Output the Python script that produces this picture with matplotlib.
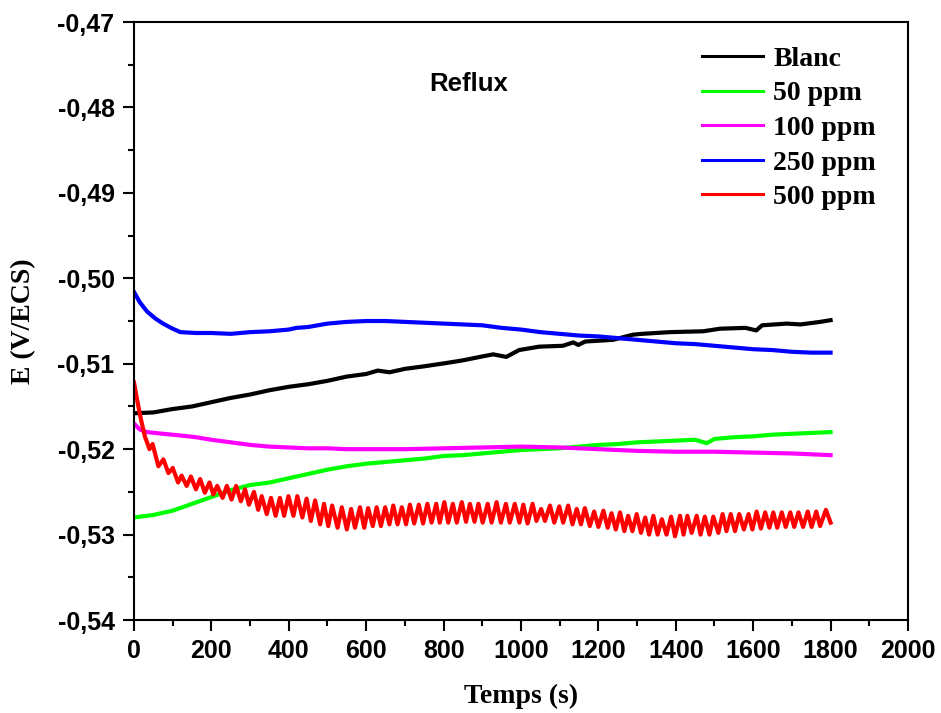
import matplotlib
matplotlib.use("Agg")
import matplotlib.pyplot as plt
from matplotlib.ticker import FuncFormatter, MultipleLocator

# --- open-circuit potential vs time, reflux extract ---
blanc_t = [0, 50, 100, 150, 200, 250, 300, 350, 400, 450, 500, 550, 600, 630, 660,
           700, 750, 809, 850, 894, 928, 962, 995, 1047, 1108, 1135, 1148, 1166,
           1238, 1289, 1313, 1385, 1471, 1514, 1580, 1608, 1623, 1687, 1722, 1773, 1800]
blanc_e = [-0.5158, -0.5157, -0.5153, -0.5150, -0.5145, -0.5140, -0.5136, -0.5131,
           -0.5127, -0.5124, -0.5120, -0.5115, -0.5112, -0.5108, -0.5110, -0.5106,
           -0.5103, -0.5099, -0.5096, -0.5092, -0.5089, -0.5092, -0.5084, -0.5080,
           -0.5079, -0.5075, -0.5078, -0.5074, -0.5072, -0.5066, -0.5065, -0.5063,
           -0.5062, -0.5059, -0.5058, -0.5061, -0.5055, -0.5053, -0.5054, -0.5051, -0.5049]

ppm50_t = [0, 50, 100, 150, 200, 250, 300, 351, 400, 450, 500, 550, 600, 650, 700,
           750, 800, 850, 900, 950, 1000, 1050, 1100, 1150, 1200, 1250, 1300, 1350,
           1400, 1450, 1480, 1500, 1550, 1600, 1650, 1700, 1750, 1800]
ppm50_e = [-0.5280, -0.5277, -0.5272, -0.5264, -0.5256, -0.5248, -0.5242, -0.5239,
           -0.5234, -0.5229, -0.5224, -0.5220, -0.5217, -0.5215, -0.5213, -0.5211,
           -0.5208, -0.5207, -0.5205, -0.5203, -0.5201, -0.5200, -0.5199, -0.5197,
           -0.5195, -0.5194, -0.5192, -0.5191, -0.5190, -0.5189, -0.5193, -0.5188,
           -0.5186, -0.5185, -0.5183, -0.5182, -0.5181, -0.5180]

ppm100_t = [0, 15, 34, 75, 120, 160, 200, 250, 300, 350, 400, 450, 500, 550,
            600, 700, 800, 900, 1000, 1100, 1200, 1300, 1400, 1500, 1600, 1700, 1800]
ppm100_e = [-0.5170, -0.5177, -0.5180, -0.5182, -0.5184, -0.5186, -0.5189, -0.5192,
            -0.5195, -0.5197, -0.5198, -0.5199, -0.5199, -0.5200, -0.5200,
            -0.5200, -0.5199, -0.5198, -0.5197, -0.5198, -0.5200, -0.5202, -0.5203,
            -0.5203, -0.5204, -0.5205, -0.5207]

ppm250_t = [0, 15, 34, 55, 75, 100, 120, 160, 200, 250, 300, 350, 400, 420, 450,
            500, 550, 600, 650, 700, 750, 800, 850, 900, 950, 1000, 1050, 1100, 1150,
            1200, 1250, 1300, 1350, 1400, 1450, 1500, 1550, 1600, 1650, 1700, 1750, 1800]
ppm250_e = [-0.5016, -0.5028, -0.5039, -0.5047, -0.5053, -0.5059, -0.5063, -0.5064,
            -0.5064, -0.5065, -0.5063, -0.5062, -0.5060, -0.5058, -0.5057, -0.5053,
            -0.5051, -0.5050, -0.5050, -0.5051, -0.5052, -0.5053, -0.5054, -0.5055,
            -0.5058, -0.5060, -0.5063, -0.5065, -0.5067, -0.5068, -0.5070, -0.5072,
            -0.5074, -0.5076, -0.5077, -0.5079, -0.5081, -0.5083, -0.5084, -0.5086,
            -0.5087, -0.5087]

# 500 ppm oscillates; successive extrema (peak / trough) of each cycle
ppm500_t = [0, 8, 16, 28, 40,
            48, 63, 76, 89, 100, 114, 123, 136, 147, 160, 171, 183, 195, 205,
            215, 229, 240, 252, 264, 276, 287, 297, 310, 321, 330, 343, 354, 366,
            377, 388, 399, 412, 422, 435, 446, 457, 468, 481, 491, 502, 512, 526,
            537, 550, 561, 571, 584, 595, 605, 617, 627, 638, 649, 660, 670, 681,
            692, 703, 713, 724, 736, 747, 758, 769, 781, 790, 802, 812, 824, 834,
            847, 858, 868, 880, 890, 901, 914, 924, 937, 948, 961, 971, 984, 996,
            1006, 1017, 1030, 1040, 1052, 1062, 1075, 1086, 1099, 1109, 1122, 1133,
            1144, 1155, 1165, 1178, 1189, 1200, 1213, 1224, 1234, 1245, 1256, 1267,
            1277, 1288, 1299, 1310, 1321, 1331, 1342, 1353, 1364, 1376, 1388, 1398,
            1411, 1420, 1430, 1441, 1454, 1464, 1475, 1487, 1497, 1510, 1521, 1531,
            1542, 1553, 1564, 1576, 1588, 1598, 1609, 1620, 1631, 1642, 1652, 1662,
            1674, 1684, 1696, 1706, 1717, 1729, 1741, 1751, 1763, 1773, 1788, 1800]
ppm500_e = [-0.5122, -0.5142, -0.5161, -0.5185, -0.5200,
            -0.5194, -0.5220, -0.5212, -0.5228, -0.5222, -0.5239, -0.5231, -0.5243,
            -0.5232, -0.5247, -0.5235, -0.5251, -0.5239, -0.5253, -0.5243, -0.5257,
            -0.5243, -0.5259, -0.5243, -0.5261, -0.5247, -0.5265, -0.5250, -0.5271,
            -0.5255, -0.5276, -0.5257, -0.5278, -0.5257, -0.5278, -0.5255, -0.5278,
            -0.5255, -0.5280, -0.5258, -0.5284, -0.5260, -0.5288, -0.5264, -0.5290,
            -0.5266, -0.5292, -0.5268, -0.5294, -0.5270, -0.5292, -0.5268, -0.5292,
            -0.5269, -0.5290, -0.5268, -0.5290, -0.5268, -0.5288, -0.5266, -0.5288,
            -0.5268, -0.5288, -0.5265, -0.5287, -0.5265, -0.5287, -0.5264, -0.5286,
            -0.5264, -0.5286, -0.5262, -0.5286, -0.5264, -0.5286, -0.5262, -0.5285,
            -0.5264, -0.5285, -0.5264, -0.5286, -0.5264, -0.5286, -0.5262, -0.5286,
            -0.5264, -0.5286, -0.5264, -0.5286, -0.5265, -0.5287, -0.5264, -0.5284,
            -0.5270, -0.5284, -0.5266, -0.5286, -0.5267, -0.5286, -0.5266, -0.5288,
            -0.5270, -0.5288, -0.5269, -0.5290, -0.5273, -0.5291, -0.5272, -0.5292,
            -0.5275, -0.5294, -0.5274, -0.5296, -0.5278, -0.5296, -0.5276, -0.5298,
            -0.5280, -0.5300, -0.5278, -0.5300, -0.5282, -0.5300, -0.5279, -0.5302,
            -0.5278, -0.5300, -0.5278, -0.5298, -0.5278, -0.5300, -0.5279, -0.5300,
            -0.5279, -0.5298, -0.5276, -0.5296, -0.5276, -0.5296, -0.5276, -0.5294,
            -0.5276, -0.5294, -0.5273, -0.5293, -0.5274, -0.5292, -0.5274, -0.5292,
            -0.5274, -0.5291, -0.5274, -0.5291, -0.5274, -0.5291, -0.5273, -0.5291,
            -0.5273, -0.5290, -0.5271, -0.5286]

SERIES = [
    ("Blanc", blanc_t, blanc_e, "#000000"),
    ("50 ppm", ppm50_t, ppm50_e, "#00ff00"),
    ("100 ppm", ppm100_t, ppm100_e, "#ff00ff"),
    ("250 ppm", ppm250_t, ppm250_e, "#0000ff"),
    ("500 ppm", ppm500_t, ppm500_e, "#ff0000"),
]

SANS = "Liberation Sans"
SERIF = "Liberation Serif"

fig = plt.figure(figsize=(9.41, 7.13), dpi=100)
ax = fig.add_axes([0.1424, 0.1304, 0.8225, 0.8387])

for label, t, e, color in SERIES:
    ax.plot(t, e, color=color, linewidth=3.0, label=label)

ax.set_xlim(0, 2000)
ax.set_ylim(-0.54, -0.47)
ax.xaxis.set_major_locator(MultipleLocator(200))
ax.xaxis.set_minor_locator(MultipleLocator(100))
ax.yaxis.set_major_locator(MultipleLocator(0.01))
ax.yaxis.set_minor_locator(MultipleLocator(0.005))
ax.yaxis.set_major_formatter(FuncFormatter(lambda v, _: f"{v:.2f}".replace(".", ",")))
ax.xaxis.set_major_formatter(FuncFormatter(lambda v, _: f"{v:.0f}"))

ax.tick_params(which="both", direction="out", top=False, right=False, width=1.5)
ax.tick_params(which="major", length=8)
ax.tick_params(which="minor", length=4)
ax.tick_params(axis="x", which="major", pad=6)
ax.tick_params(axis="y", which="major", pad=6)
for lab in ax.get_xticklabels() + ax.get_yticklabels():
    lab.set_fontfamily(SANS)
    lab.set_fontweight("bold")
    lab.set_fontsize(18)
for sp in ax.spines.values():
    sp.set_linewidth(1.5)

ax.set_xlabel("Temps (s)", fontfamily=SERIF, fontweight="bold", fontsize=20)
ax.set_ylabel("E (V/ECS)", fontfamily=SERIF, fontweight="bold", fontsize=20)
ax.xaxis.set_label_coords(0.5, -0.107)
ax.yaxis.set_label_coords(-0.127, 0.5)

ax.text(0.432, 0.896, "Reflux", transform=ax.transAxes, ha="center", va="center",
        fontfamily=SANS, fontweight="bold", fontsize=18.5)

leg = ax.legend(loc="upper right", bbox_to_anchor=(0.973, 0.978), frameon=False,
                prop={"family": SERIF, "weight": "bold", "size": 20},
                handlelength=2.2, handletextpad=0.35, labelspacing=0.33, borderaxespad=0)
for line in leg.get_lines():
    line.set_linewidth(2.2)

fig.savefig("out.png", dpi=100)
